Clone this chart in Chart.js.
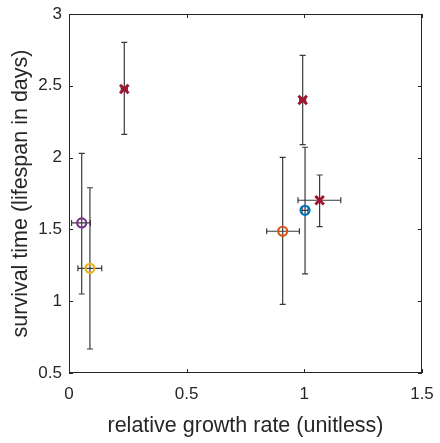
<!DOCTYPE html>
<html>
<head>
<meta charset="utf-8">
<script src="https://cdn.jsdelivr.net/npm/chart.js@4.4.0/dist/chart.umd.min.js"></script>
<style>
  html, body { margin: 0; padding: 0; background: #fff; }
  #wrap { width: 440px; height: 443px; }
</style>
</head>
<body>
<div id="wrap"><canvas id="chart" width="440" height="443"></canvas></div>
<script>
// growth rate (x) and survival (y), with error bar bounds
const growthRate = [0.235, 0.054, 0.089, 0.993, 0.908, 1.003, 1.065];
const survival   = [2.478, 1.545, 1.229, 2.401, 1.487, 1.633, 1.703];
const xLow  = [0.235, 0.011, 0.038, 0.993, 0.840, 1.003, 0.973];
const xHigh = [0.235, 0.091, 0.139, 0.993, 0.979, 1.003, 1.155];
const yLow  = [2.162, 1.050, 0.667, 2.090, 0.978, 1.190, 1.519];
const yHigh = [2.803, 2.030, 1.790, 2.712, 2.002, 2.072, 1.879];
const markerColors = ['#A2142F', '#7E2F8E', '#EDB120', '#A2142F', '#D95319', '#0072BD', '#A2142F'];
const markerShapes = ['crossRot', 'circle', 'circle', 'crossRot', 'circle', 'circle', 'crossRot'];

const xTicks = [0, 0.5, 1, 1.5];
const yTicks = [0.5, 1, 1.5, 2, 2.5, 3];

const points = growthRate.map((x, i) => ({ x: x, y: survival[i] }));

const textColor = '#262626';
const fontFamily = 'Liberation Sans, Arial, sans-serif';

// error bars, box and inward ticks (matlab look)
const matlabAxes = {
    id: 'matlabAxes',
    beforeDatasetsDraw(chart) {
        const { ctx, scales: { x, y } } = chart;
        ctx.save();
        ctx.strokeStyle = '#3a3a3a';
        ctx.lineWidth = 1.2;
        const cap = 3;
        for (let i = 0; i < growthRate.length; i++) {
            const px = x.getPixelForValue(growthRate[i]);
            const py = y.getPixelForValue(survival[i]);
            const top = y.getPixelForValue(yHigh[i]);
            const bot = y.getPixelForValue(yLow[i]);
            ctx.beginPath();
            ctx.moveTo(px, top); ctx.lineTo(px, bot);
            ctx.moveTo(px - cap, top); ctx.lineTo(px + cap, top);
            ctx.moveTo(px - cap, bot); ctx.lineTo(px + cap, bot);
            const l = x.getPixelForValue(xLow[i]);
            const r = x.getPixelForValue(xHigh[i]);
            const hl = Math.min(l, px - cap);
            const hr = Math.max(r, px + cap);
            ctx.moveTo(hl, py); ctx.lineTo(hr, py);
            ctx.moveTo(hl, py - cap); ctx.lineTo(hl, py + cap);
            ctx.moveTo(hr, py - cap); ctx.lineTo(hr, py + cap);
            ctx.stroke();
        }
        ctx.restore();
    },
    afterDatasetsDraw(chart) {
        const { ctx, chartArea: a, scales: { x, y } } = chart;
        ctx.save();
        ctx.strokeStyle = textColor;
        ctx.lineWidth = 1;
        ctx.strokeRect(Math.round(a.left) + 0.5, Math.round(a.top) + 0.5,
            Math.round(a.right - a.left) - 1, Math.round(a.bottom - a.top) - 1);
        const tl = 4;
        ctx.beginPath();
        xTicks.forEach(v => {
            const px = Math.round(x.getPixelForValue(v)) + 0.5;
            ctx.moveTo(px, a.bottom); ctx.lineTo(px, a.bottom - tl);
            ctx.moveTo(px, a.top); ctx.lineTo(px, a.top + tl);
        });
        yTicks.forEach(v => {
            const py = Math.round(y.getPixelForValue(v)) + 0.5;
            ctx.moveTo(a.left, py); ctx.lineTo(a.left + tl, py);
            ctx.moveTo(a.right, py); ctx.lineTo(a.right - tl, py);
        });
        ctx.stroke();
        ctx.restore();
    }
};

new Chart(document.getElementById('chart'), {
    type: 'scatter',
    data: {
        datasets: [{
            data: points,
            pointStyle: markerShapes,
            borderColor: markerColors,
            backgroundColor: 'rgba(0,0,0,0)',
            pointRadius: markerShapes.map(s => s === 'crossRot' ? 6 : 4.5),
            pointBorderWidth: markerShapes.map(s => s === 'crossRot' ? 3 : 2.2),
            pointHoverRadius: 4
        }]
    },
    options: {
        responsive: false,
        animation: false,
        layout: { padding: { top: 14, right: 18, left: 0, bottom: 0 } },
        plugins: { legend: { display: false }, tooltip: { enabled: false } },
        scales: {
            x: {
                type: 'linear', min: 0, max: 1.5,
                afterBuildTicks: s => { s.ticks = xTicks.map(v => ({ value: v })); },
                afterFit: s => { s.height = 70; s.paddingLeft = 0; s.paddingRight = 0; },
                grid: { display: false, drawTicks: false },
                border: { display: false },
                ticks: {
                    color: textColor, padding: 11,
                    callback: v => String(v),
                    font: { family: fontFamily, size: 17 }
                },
                title: {
                    display: true, text: 'relative growth rate (unitless)', color: textColor,
                    padding: { top: 0 },
                    font: { family: fontFamily, size: 21.5 }
                }
            },
            y: {
                type: 'linear', min: 0.5, max: 3,
                afterBuildTicks: s => { s.ticks = yTicks.map(v => ({ value: v })); },
                afterFit: s => { s.width = 69; s.paddingTop = 0; s.paddingBottom = 0; },
                grid: { display: false, drawTicks: false },
                border: { display: false },
                ticks: {
                    color: textColor, padding: 7,
                    callback: v => String(v),
                    font: { family: fontFamily, size: 17 }
                },
                title: {
                    display: true, text: 'survival time (lifespan in days)', color: textColor,
                    padding: { top: 8, bottom: 0 },
                    font: { family: fontFamily, size: 21.5 }
                }
            }
        }
    },
    plugins: [matlabAxes]
});
</script>
</body>
</html>
